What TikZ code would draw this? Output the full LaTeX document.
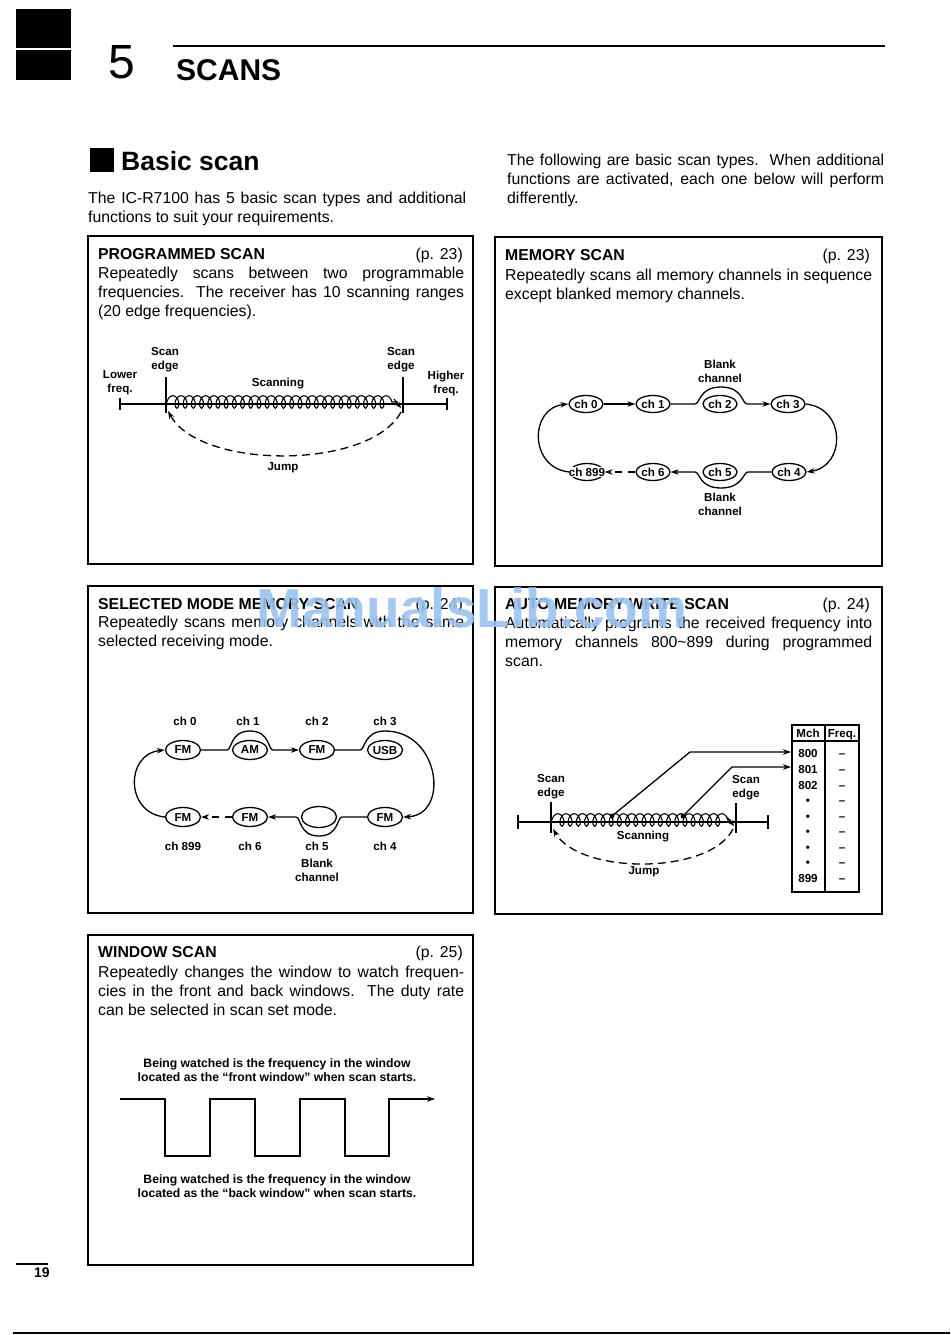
\documentclass[tikz,border=0pt]{standalone}
\usepackage{fontspec}
\setmainfont{Liberation Sans}
\usetikzlibrary{shapes.geometric,decorations.pathmorphing,arrows.meta}
\newcommand\fz[2]{\fontsize{#1}{#2}\selectfont}
\newcommand\bodytext[2]{\parbox[t]{#1}{\fz{15.8}{19}#2}}
\begin{document}
\begin{tikzpicture}[x=1pt,y=-1pt,
  boxframe/.style={draw, line width=1.2pt},
  ttl/.style={font=\bfseries\fz{15.8}{19}, anchor=base west, inner sep=0pt},
  pref/.style={font=\fz{15.8}{19}, anchor=base east, inner sep=0pt},
  bodyn/.style={anchor=base west, inner sep=0pt},
  lbl/.style={font=\bfseries\fz{11.6}{14}, align=center, inner sep=0pt},
  chan/.style={ellipse, draw, line width=1.3pt, inner sep=0pt, minimum width=34pt, minimum height=17pt},
  mode/.style={ellipse, draw, line width=1.3pt, inner sep=0pt, minimum width=35pt, minimum height=19pt},
  link/.style={line width=1.3pt, -{Stealth[length=8pt,width=5.5pt]}},
  plain/.style={line width=1.3pt},
  jump/.style={line width=1.3pt, dash pattern=on 8pt off 5pt, -{Stealth[length=8pt,width=5.5pt]}},
  coilpath/.style={decorate, decoration={coil, aspect=0.6, segment length=8.2pt, amplitude=6.3pt}, line width=1.1pt},
  tip/.style={line width=1.1pt, -{Stealth[length=6pt,width=5pt]}},
  tbl/.style={font=\bfseries\fz{11.6}{14}, inner sep=0pt, anchor=base}
]
\useasboundingbox (0,0) rectangle (950,1335);
\fill[white] (0,0) rectangle (950,1335);

% ---------- header ----------
\fill[black] (16,9) rectangle (71,48);
\fill[black] (16,50) rectangle (71,80);
\node[font=\fz{48}{50}, anchor=base west, inner sep=0pt] (chapno) at (108,79) {5};
\node[font=\bfseries\fz{30}{32}, anchor=base west, inner sep=0pt] (chapname) at (176,81) {SCANS};
\draw[line width=2pt] (173,46) -- (885,46);

\fill[black] (90,148) rectangle (114,172);
\node[font=\bfseries\fz{26.5}{28}, anchor=base west, inner sep=0pt] (sect) at (121,170) {Basic scan};
\node[bodyn] (introL) at (88,203) {\bodytext{378pt}{The IC-R7100 has 5 basic scan types and additional\linebreak functions to suit your requirements.}};
\node[bodyn] (introR) at (507,165) {\bodytext{377pt}{The following are basic scan types.\ \ When additional\linebreak functions are activated, each one below will perform\linebreak differently.}};

% ---------- boxes ----------
\draw[boxframe] (88,236) rectangle (473,564);
\draw[boxframe] (495,237) rectangle (882,566);
\draw[boxframe] (88,586) rectangle (473,913);
\draw[boxframe] (495,587) rectangle (882,914);
\draw[boxframe] (88,935) rectangle (473,1265);

% ---------- PROGRAMMED SCAN ----------
\node[ttl] (t1) at (98,259) {PROGRAMMED SCAN};
\node[pref] (p1) at (463,259) {(p. 23)};
\node[bodyn] (b1) at (98,278) {\bodytext{366pt}{Repeatedly scans between two programmable\linebreak frequencies.\ \ The receiver has 10 scanning ranges\linebreak (20 edge frequencies).}};

\draw[plain] (120,404) -- (447,404);
\draw[plain] (120,398) -- (120,410);
\draw[plain] (447,398) -- (447,410);
\draw[plain] (166,377) -- (166,413);
\draw[plain] (403,377) -- (403,413);
\draw[coilpath] (167,402) -- (398,402);
\draw[tip] (394,399) -- (401,408);
\draw[jump] (401,412) .. controls (370,470) and (200,470) .. (168,411);
\node[lbl] (se1) at (165,360) {Scan\\edge};
\node[lbl] (se2) at (401,360) {Scan\\edge};
\node[lbl] (lf) at (120,383) {Lower\\freq.};
\node[lbl] (hf) at (446,383) {Higher\\freq.};
\node[lbl] (sc1) at (278,384) {Scanning};
\node[lbl] (jp1) at (283,468) {Jump};

% ---------- MEMORY SCAN ----------
\node[ttl] (t2) at (505,260) {MEMORY SCAN};
\node[pref] (p2) at (870,260) {(p. 23)};
\node[bodyn] (b2) at (505,280) {\bodytext{367pt}{Repeatedly scans all memory channels in sequence\linebreak except blanked memory channels.}};

\node[chan, label={[lbl]center:ch 0}] (m0) at (586,404) {};
\node[chan, label={[lbl]center:ch 1}] (m1) at (653,404) {};
\node[chan, label={[lbl]center:ch 2}] (m2) at (720,404) {};
\node[chan, label={[lbl]center:ch 3}] (m3) at (788,404) {};
\node[chan, label={[lbl, fill=white, inner sep=0.5pt]center:ch 899}] (m899) at (587,472) {};
\node[chan, label={[lbl]center:ch 6}] (m6) at (653,472) {};
\node[chan, label={[lbl]center:ch 5}] (m5) at (720,472) {};
\node[chan, label={[lbl]center:ch 4}] (m4) at (789,472) {};
\draw[link] (m0) -- (m1);
\draw[link] (m1.east) -- (695,404) .. controls (700,404) and (699,387) .. (721,387) .. controls (743,387) and (742,404) .. (747,404) -- (m3.west);
\draw[link] (m3.east) .. controls (846,408) and (846,466) .. (m4.east);
\draw[link] (m4.west) -- (748,472) .. controls (743,472) and (743,488) .. (721,488) .. controls (699,488) and (700,472) .. (695,472) -- (m6.east);
\draw[jump, dash pattern=on 7pt off 6pt] (m6.west) -- (m899.east);
\draw[link] (m899.west) .. controls (529,468) and (529,408) .. (m0.west);
\node[lbl] (bl1) at (720,371) {Blank\\channel};
\node[lbl] (bl2) at (720,504) {Blank\\channel};

% ---------- SELECTED MODE MEMORY SCAN ----------
\node[ttl] (t3) at (98,609) {SELECTED MODE MEMORY SCAN};
\node[pref] (p3) at (463,609) {(p. 24)};
\node[bodyn] (b3) at (98,627) {\bodytext{366pt}{Repeatedly scans memory channels with the same\linebreak selected receiving mode.}};

\node[mode, label={[lbl]center:FM}] (s0) at (183,750) {};
\node[mode, label={[lbl]center:AM}] (s1) at (250,750) {};
\node[mode, label={[lbl]center:FM}] (s2) at (317,750) {};
\node[mode, label={[lbl]center:USB}] (s3) at (385,750) {};
\node[mode, label={[lbl]center:FM}] (s899) at (183,817) {};
\node[mode, label={[lbl]center:FM}] (s6) at (250,817) {};
\node[mode, minimum height=21pt] (s5) at (319,817) {};
\node[mode, label={[lbl]center:FM}] (s4) at (385,817) {};
\draw[link] (s0.east) -- (227,750) .. controls (232,750) and (230,731) .. (250,731) .. controls (270,731) and (268,750) .. (273,750) -- (s2.west);
\draw[link] (s2.east) -- (360,750) .. controls (365,750) and (364,731) .. (385,731) .. controls (440,731) and (450,815) .. (s4.east);
\draw[link] (s4.west) -- (342,817) .. controls (337,817) and (339,836) .. (319,836) .. controls (299,836) and (301,817) .. (296,817) -- (s6.east);
\draw[jump, dash pattern=on 7pt off 6pt] (s6.west) -- (s899.east);
\draw[link] (s899.west) .. controls (125,813) and (125,754) .. (s0.west);
\node[lbl] (c0) at (185,721) {ch 0};
\node[lbl] (c1) at (248,721) {ch 1};
\node[lbl] (c2) at (317,721) {ch 2};
\node[lbl] (c3) at (385,721) {ch 3};
\node[lbl] (c899) at (183,846) {ch 899};
\node[lbl] (c6) at (250,846) {ch 6};
\node[lbl] (c5) at (317,846) {ch 5};
\node[lbl] (c4) at (385,846) {ch 4};
\node[lbl] (bl3) at (317,870) {Blank\\channel};

% ---------- AUTO MEMORY WRITE SCAN ----------
\node[ttl] (t4) at (505,609) {AUTO MEMORY WRITE SCAN};
\node[pref] (p4) at (870,609) {(p. 24)};
\node[bodyn] (b4) at (505,628) {\bodytext{367pt}{Automatically programs the received frequency into\linebreak memory channels 800\textasciitilde 899 during programmed\linebreak scan.}};

\draw[plain] (518,822) -- (768,822);
\draw[plain] (518,815) -- (518,829);
\draw[plain] (768,815) -- (768,829);
\draw[plain] (551,802) -- (551,833);
\draw[plain] (736,803) -- (736,833);
\draw[coilpath] (552,820) -- (731,820);
\draw[tip] (727,817) -- (734,826);
\draw[jump] (733,829) .. controls (710,875) and (580,875) .. (553,829);
\fill (612,816) circle (2.4pt) coordinate (d1);
\fill (683,816) circle (2.4pt) coordinate (d2);
\coordinate (r800) at (791,752);
\coordinate (r801) at (791,767);
\draw[link] (d1) -- (690,752) -- (r800);
\draw[link] (d2) -- (732,767) -- (r801);
\node[lbl] (se3) at (551,787) {Scan\\edge};
\node[lbl] (se4) at (746,788) {Scan\\edge};
\node[lbl] (sc2) at (643,837) {Scanning};
\node[lbl] (jp2) at (644,872) {Jump};

\draw[plain] (792,725) rectangle (859,892);
\draw[plain] (792,741) -- (859,741);
\draw[plain] (825,725) -- (825,892);
\node[tbl] (hm) at (808,737.5) {Mch};
\node[tbl] (hf2) at (842,737.5) {Freq.};
\foreach \yy/\tx in {757/800, 773/801, 789/802, 804/\textbullet, 820/\textbullet, 835/\textbullet, 851/\textbullet, 866/\textbullet, 882/899} {
  \node[tbl] at (808,\yy) {\tx};
  \node[tbl] at (842,\yy) {\textendash};
}

% ---------- WINDOW SCAN ----------
\node[ttl] (t5) at (98,957) {WINDOW SCAN};
\node[pref] (p5) at (463,957) {(p. 25)};
\node[bodyn] (b5) at (98,977) {\bodytext{366pt}{Repeatedly changes the window to watch frequen-\linebreak cies in the front and back windows.\ \ The duty rate\linebreak can be selected in scan set mode.}};
\node[lbl, font=\bfseries\fz{12.2}{14}] (wf) at (277,1070) {Being watched is the frequency in the window\\located as the ``front window'' when scan starts.};
\node[lbl, font=\bfseries\fz{12.2}{14}] (wb) at (277,1186) {Being watched is the frequency in the window\\located as the ``back window'' when scan starts.};
\draw[link] (120,1099) -- (165,1099) -- (165,1156) -- (210,1156) -- (210,1099) -- (255,1099) -- (255,1156) -- (300,1156) -- (300,1099) -- (345,1099) -- (345,1156) -- (389,1156) -- (389,1099) -- (435,1099);

% ---------- footer ----------
\draw[line width=1.2pt] (16,1264) -- (48,1264);
\node[font=\bfseries\fz{14}{16}, inner sep=0pt] (pgno) at (42,1273) {19};
\draw[line width=2pt] (13,1333) -- (950,1333);

% ---------- watermark ----------
\node[font=\bfseries\fz{55}{57}, text={rgb,255:red,155;green,195;blue,238}, opacity=0.9, inner sep=0pt] (wm) at (472,608) {ManualsLib.com};
\end{tikzpicture}
\end{document}
